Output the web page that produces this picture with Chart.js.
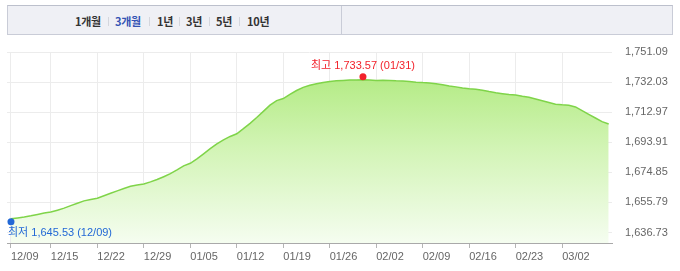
<!DOCTYPE html>
<html lang="ko">
<head>
<meta charset="utf-8">
<title>3개월 차트</title>
<script src="https://cdn.jsdelivr.net/npm/chart.js@4.4.1/dist/chart.umd.min.js"></script>
<style>
  html, body { margin: 0; padding: 0; background: #fff; }
  #wrap { position: relative; width: 680px; height: 271px; overflow: hidden; }
  #chart { position: absolute; left: 0; top: 0; }
  .tabs { position: absolute; left: 7px; top: 5px; width: 664px; height: 28px;
          background: #eff0f5; border: 1px solid #c9ccd7; border-top-color: #bcc0cc; }
  .tabs .div { position: absolute; left: 333px; top: 0; width: 1px; height: 28px; background: #c9ccd7; }
  .tab { position: absolute; top: 13px; font: bold 11px "Noto Sans CJK KR", "Liberation Sans", sans-serif;
         color: #333; letter-spacing: -0.3px; line-height: 16px; }
  .tab.on { color: #3554b4; }
  .sep { position: absolute; top: 17px; width: 1px; height: 9px; background: #d4d6dd; }
</style>
</head>
<body>
<div id="wrap">
  <div class="tabs"><div class="div"></div></div>
  <span class="tab" style="left:75px">1개월</span>
  <span class="sep" style="left:108px"></span>
  <span class="tab on" style="left:115px">3개월</span>
  <span class="sep" style="left:149px"></span>
  <span class="tab" style="left:157px">1년</span>
  <span class="sep" style="left:179px"></span>
  <span class="tab" style="left:186px">3년</span>
  <span class="sep" style="left:209px"></span>
  <span class="tab" style="left:216px">5년</span>
  <span class="sep" style="left:239px"></span>
  <span class="tab" style="left:247px">10년</span>
  <canvas id="chart" width="680" height="271"></canvas>
</div>
<script>
// daily closing values, starting 12/09
var startDate = Date.UTC(2024, 11, 9);
var values = [
  1645.53, 1646.0, 1646.5, 1647.3, 1648.2, 1649.1, 1649.7, 1650.9, 1652.2, 1653.8,
  1655.3, 1656.8, 1657.7, 1658.5, 1660.0, 1661.6, 1663.1, 1664.6, 1666.0, 1666.8,
  1667.5, 1668.8, 1670.3, 1672.1, 1674.0, 1676.4, 1679.0, 1680.6, 1683.4, 1686.6,
  1689.9, 1692.9, 1695.4, 1697.6, 1699.3, 1702.5, 1705.9, 1709.6, 1713.5, 1717.4,
  1720.3, 1721.6, 1724.3, 1726.7, 1728.7, 1730.0, 1731.0, 1731.7, 1732.4, 1732.9,
  1733.1, 1733.3, 1733.4, 1733.57, 1733.4, 1733.1, 1733.2, 1733.0, 1732.8, 1732.7,
  1732.4, 1732.0, 1731.7, 1731.5, 1731.0, 1730.3, 1729.6, 1729.0, 1728.3, 1727.8,
  1727.5, 1726.8, 1726.0, 1725.3, 1724.7, 1724.1, 1723.9, 1723.1, 1722.4, 1721.3,
  1720.2, 1719.1, 1718.0, 1717.6, 1717.3, 1716.3, 1713.9, 1711.6, 1709.3, 1707.0,
  1705.5
];
var xTickDays = [0, 6, 13, 20, 27, 34, 41, 48, 55, 62, 69, 76, 83];
var xTickLabels = ["12/09", "12/15", "12/22", "12/29", "01/05", "01/12", "01/19",
  "01/26", "02/02", "02/09", "02/16", "02/23", "03/02"];
var yTicks = [1636.73, 1655.79, 1674.85, 1693.91, 1712.97, 1732.03, 1751.09];

var FONT = '"Liberation Sans", "Noto Sans CJK KR", sans-serif';

function dayLabel(i) {
  var d = new Date(startDate + i * 86400000);
  var m = d.getUTCMonth() + 1, dd = d.getUTCDate();
  return (m < 10 ? "0" : "") + m + "/" + (dd < 10 ? "0" : "") + dd;
}
function fmt(v) {
  return v.toLocaleString("en-US", { minimumFractionDigits: 2, maximumFractionDigits: 2 });
}

// min / max markers
var minMaxPlugin = {
  id: "minMax",
  afterDatasetsDraw: function (chart) {
    var ctx = chart.ctx;
    var pts = chart.getDatasetMeta(0).data;
    var area = chart.chartArea;
    var maxI = 0, minI = 0;
    values.forEach(function (v, i) {
      if (v > values[maxI]) maxI = i;
      if (v < values[minI]) minI = i;
    });
    var marks = [
      { i: maxI, txt: "최고 " + fmt(values[maxI]) + " (" + dayLabel(maxI) + ")", color: "#f2222b", dir: -1 },
      { i: minI, txt: "최저 " + fmt(values[minI]) + " (" + dayLabel(minI) + ")", color: "#2268d6", dir: 1 }
    ];
    ctx.save();
    ctx.font = "11px " + FONT;
    ctx.textBaseline = "middle";
    marks.forEach(function (m) {
      var p = pts[m.i];
      ctx.fillStyle = m.color;
      ctx.beginPath();
      ctx.arc(p.x, p.y + 3 * m.dir, 3.5, 0, Math.PI * 2);
      ctx.fill();
      var w = ctx.measureText(m.txt).width;
      var left = p.x - w / 2;
      if (left < area.left + 1) left = area.left + 1;
      if (left + w > area.right) left = area.right - w;
      ctx.textAlign = "left";
      ctx.fillText(m.txt, left, p.y + 14 * m.dir);
    });
    ctx.restore();
  }
};

var ctx = document.getElementById("chart").getContext("2d");
new Chart(ctx, {
  type: "line",
  data: {
    datasets: [{
      data: values.map(function (v, i) { return { x: i, y: v }; }),
      borderColor: "#7fd449",
      borderWidth: 1.5,
      pointRadius: 0,
      tension: 0,
      fill: "start",
      backgroundColor: function (c) {
        var a = c.chart.chartArea;
        if (!a) return "rgba(180,238,140,0.5)";
        var g = c.chart.ctx.createLinearGradient(0, a.top, 0, a.bottom);
        g.addColorStop(0, "#a9e874");
        g.addColorStop(0.5, "#d2f4b5");
        g.addColorStop(1, "#f5fdf0");
        return g;
      }
    }]
  },
  options: {
    responsive: false,
    animation: false,
    layout: { padding: { top: 52, left: 7, right: 0, bottom: 0 } },
    plugins: { legend: { display: false }, tooltip: { enabled: false } },
    scales: {
      x: {
        type: "linear",
        min: -0.6,
        max: 90.5,
        afterBuildTicks: function (s) {
          s.ticks = xTickDays.map(function (d) { return { value: d }; });
        },
        afterFit: function (s) { s.height = 28; },
        grid: { color: "#ececec", tickColor: "#b5b5b5", tickLength: 5 },
        border: { color: "#a9a9a9" },
        ticks: {
          autoSkip: false,
          maxRotation: 0,
          align: "start",
          padding: 2,
          color: "#666",
          font: { family: FONT, size: 11 },
          callback: function (v) { return xTickLabels[xTickDays.indexOf(v)]; }
        }
      },
      y: {
        position: "right",
        min: 1630.1,
        max: 1751.09,
        afterBuildTicks: function (s) {
          s.ticks = yTicks.map(function (v) { return { value: v }; });
        },
        afterFit: function (s) { s.width = 68; },
        grid: { color: "#ececec", drawTicks: false },
        border: { display: false },
        ticks: {
          padding: 13,
          color: "#666",
          font: { family: FONT, size: 11 },
          callback: function (v) { return fmt(v); }
        }
      }
    }
  },
  plugins: [minMaxPlugin]
});
</script>
</body>
</html>
